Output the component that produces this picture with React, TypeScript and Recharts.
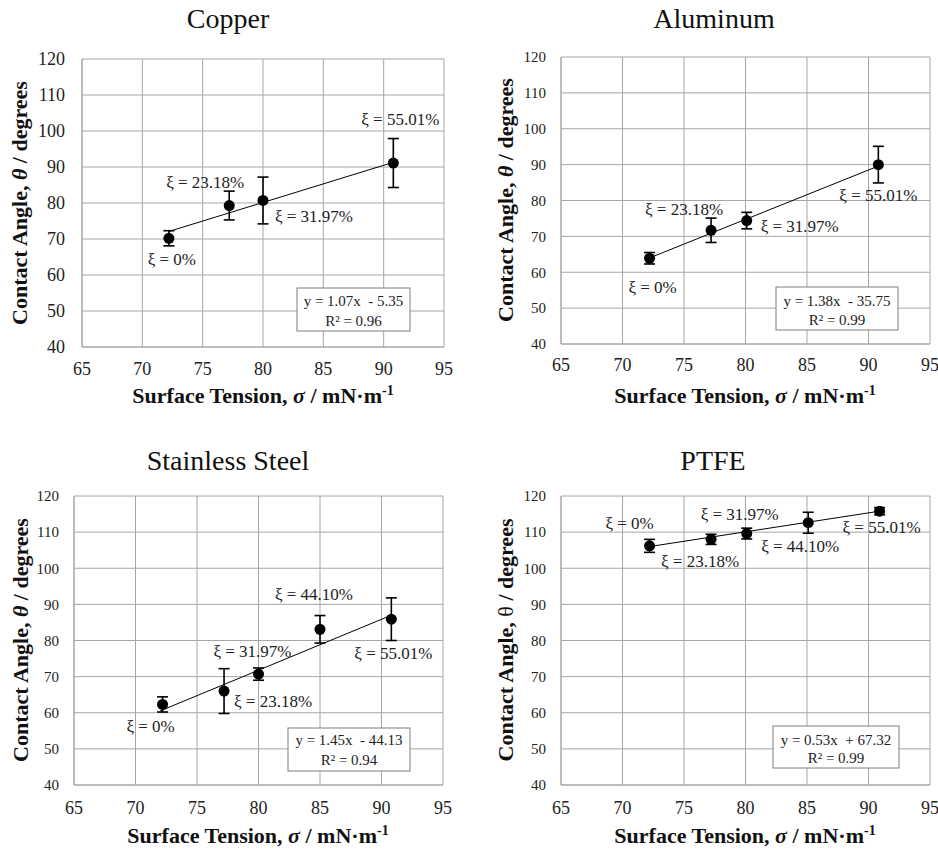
import React from 'react';
import { ScatterChart, Scatter, XAxis, YAxis, CartesianGrid, ErrorBar } from 'recharts';

// ---------- data ----------
const xTicks = [65, 70, 75, 80, 85, 90, 95];
const yTicks = [40, 50, 60, 70, 80, 90, 100, 110, 120];

const copperX = [72.2, 77.2, 80.0, 90.8];
const copperY = [70.2, 79.3, 80.7, 91.1];
const copperErr = [2.1, 4.0, 6.5, 6.8];
const copperTrendX = [72.2, 90.8];
const copperTrendY = [72.1, 91.3];
const copperLabels = ['ξ = 0%', 'ξ = 23.18%', 'ξ = 31.97%', 'ξ = 55.01%'];
const copperEq = ['y = 1.07x  - 5.35', 'R² = 0.96'];

const aluminumX = [72.2, 77.2, 80.1, 90.8];
const aluminumY = [63.9, 71.7, 74.4, 90.0];
const aluminumErr = [1.6, 3.4, 2.3, 5.1];
const aluminumTrendX = [72.2, 90.8];
const aluminumTrendY = [64.0, 89.6];
const aluminumLabels = ['ξ = 0%', 'ξ = 23.18%', 'ξ = 31.97%', 'ξ = 55.01%'];
const aluminumEq = ['y = 1.38x  - 35.75', 'R² = 0.99'];

const steelX = [72.2, 77.2, 80.0, 85.0, 90.8];
const steelY = [62.3, 66.0, 70.7, 83.1, 85.9];
const steelErr = [2.1, 6.2, 1.7, 3.8, 5.9];
const steelTrendX = [72.0, 90.8];
const steelTrendY = [60.5, 87.0];
const steelLabels = ['ξ = 0%', 'ξ = 23.18%', 'ξ = 31.97%', 'ξ = 44.10%', 'ξ = 55.01%'];
const steelEq = ['y = 1.45x  - 44.13', 'R² = 0.94'];

const ptfeX = [72.2, 77.2, 80.1, 85.1, 90.9];
const ptfeY = [106.2, 108.0, 109.6, 112.6, 115.8];
const ptfeErr = [1.8, 1.4, 1.5, 2.9, 1.0];
const ptfeTrendX = [72.2, 90.9];
const ptfeTrendY = [106.0, 115.8];
const ptfeLabels = ['ξ = 0%', 'ξ = 23.18%', 'ξ = 31.97%', 'ξ = 44.10%', 'ξ = 55.01%'];
const ptfeEq = ['y = 0.53x  + 67.32', 'R² = 0.99'];

// ---------- layout (pixel offsets of labels from their points) ----------
const copperLabelOffsets = [[3, 21], [-24, -24], [51, 16], [7, -44]];
const aluminumLabelOffsets = [[3, 29], [-27, -21], [53, 5], [0, 30]];
const steelLabelOffsets = [[-12, 22], [49, 10], [-6, -23], [-6, -35], [2, 34]];
const ptfeLabelOffsets = [[-20, -23], [-11, 22], [-7, -20], [-8, 23], [2, 16]];

const SERIF = 'Liberation Serif, serif';
const GRID = '#a6a6a6';

const PointShape = (props: any) => {
  const { cx, cy } = props;
  if (cx == null || cy == null) return <g />;
  return <circle cx={cx} cy={cy} r={5.5} fill="#000" />;
};

const LabelShape = (props: any) => {
  const { cx, cy, payload } = props;
  if (cx == null || cy == null) return <g />;
  return (
    <text
      x={cx + payload.dx}
      y={cy + payload.dy + 6}
      textAnchor="middle"
      fontSize={17}
      fontFamily={SERIF}
      fill="#222"
    >
      {payload.text}
    </text>
  );
};

const EmptyShape = () => <g />;

type PanelProps = {
  xs: number[];
  ys: number[];
  errs: number[];
  trendX: number[];
  trendY: number[];
  labels: string[];
  offsets: number[][];
  left: number;
  top: number;
  width: number;
  height: number;
  margin: { top: number; right: number; bottom: number; left: number };
  yTickSize: number;
  yTickGap: number;
  xTickGap: number;
};

const Panel = (p: PanelProps) => {
  const points = p.xs.map((x, i) => ({ x, y: p.ys[i], err: p.errs[i] }));
  const trend = p.trendX.map((x, i) => ({ x, y: p.trendY[i] }));
  const labelData = p.xs.map((x, i) => ({
    x,
    y: p.ys[i],
    text: p.labels[i],
    dx: p.offsets[i][0],
    dy: p.offsets[i][1],
  }));
  return (
    <div style={{ position: 'absolute', left: p.left, top: p.top }}>
      <ScatterChart width={p.width} height={p.height} margin={p.margin}>
        <CartesianGrid stroke={GRID} strokeWidth={1} />
        <XAxis
          type="number"
          dataKey="x"
          domain={[65, 95]}
          ticks={xTicks}
          interval={0}
          allowDataOverflow
          height={30}
          axisLine={{ stroke: GRID }}
          tickLine={false}
          tickSize={0}
          tickMargin={p.xTickGap}
          tick={{ fontSize: 18, fontFamily: SERIF, fill: '#222' }}
        />
        <YAxis
          type="number"
          dataKey="y"
          domain={[40, 120]}
          ticks={yTicks}
          interval={0}
          allowDataOverflow
          width={40}
          axisLine={{ stroke: GRID }}
          tickLine={false}
          tickSize={0}
          tickMargin={p.yTickGap}
          tick={{ fontSize: p.yTickSize, fontFamily: SERIF, fill: '#222' }}
        />
        <Scatter
          data={trend}
          line={{ stroke: '#000', strokeWidth: 1 }}
          shape={EmptyShape}
          isAnimationActive={false}
        />
        <Scatter data={points} shape={PointShape} isAnimationActive={false}>
          <ErrorBar
            dataKey="err"
            direction="y"
            width={5.5}
            stroke="#000"
            strokeWidth={1.6}
            isAnimationActive={false}
          />
        </Scatter>
        <Scatter data={labelData} shape={LabelShape} isAnimationActive={false} />
      </ScatterChart>
    </div>
  );
};

const Title = ({ x, y, text }: { x: number; y: number; text: string }) => (
  <text x={x} y={y} textAnchor="middle" fontSize={28} fontFamily={SERIF} fill="#111">
    {text}
  </text>
);

const XLabel = ({ x, y }: { x: number; y: number }) => (
  <text x={x} y={y} textAnchor="middle" fontSize={22} fontWeight="bold" fontFamily={SERIF} fill="#111">
    Surface Tension, <tspan fontStyle="italic">σ</tspan> / mN·m
    <tspan dy={-8} fontSize={14}>-1</tspan>
  </text>
);

const YLabel = ({ x, y, italic }: { x: number; y: number; italic: boolean }) => (
  <text
    x={x}
    y={y}
    transform={`rotate(-90 ${x} ${y})`}
    textAnchor="middle"
    fontSize={22}
    fontWeight="bold"
    fontFamily={SERIF}
    fill="#111"
  >
    Contact Angle,{' '}
    {italic ? <tspan fontStyle="italic">θ</tspan> : <tspan fontWeight="normal">θ</tspan>} / degrees
  </text>
);

const EqBox = ({ x, y, w, h, lines, b1, b2 }: { x: number; y: number; w: number; h: number; lines: string[]; b1: number; b2: number }) => (
  <g>
    <rect x={x} y={y} width={w} height={h} fill="#fff" stroke="#7f7f7f" strokeWidth={1} />
    <text x={x + w / 2} y={b1} textAnchor="middle" fontSize={15} fontFamily={SERIF} fill="#222" style={{ whiteSpace: 'pre' }}>
      {lines[0]}
    </text>
    <text x={x + w / 2} y={b2} textAnchor="middle" fontSize={15} fontFamily={SERIF} fill="#222" style={{ whiteSpace: 'pre' }}>
      {lines[1]}
    </text>
  </g>
);

export default function App() {
  return (
    <div style={{ position: 'absolute', left: 0, top: 0, width: 938, height: 849, background: '#fff', overflow: 'hidden' }}>
      <Panel
        xs={copperX} ys={copperY} errs={copperErr} trendX={copperTrendX} trendY={copperTrendY}
        labels={copperLabels} offsets={copperLabelOffsets}
        left={0} top={0} width={469} height={420}
        margin={{ top: 59, right: 25, bottom: 43, left: 42 }}
        yTickSize={18} yTickGap={17} xTickGap={15}
      />
      <Panel
        xs={aluminumX} ys={aluminumY} errs={aluminumErr} trendX={aluminumTrendX} trendY={aluminumTrendY}
        labels={aluminumLabels} offsets={aluminumLabelOffsets}
        left={469} top={0} width={469} height={420}
        margin={{ top: 57, right: 8, bottom: 46, left: 52 }}
        yTickSize={15} yTickGap={15} xTickGap={14}
      />
      <Panel
        xs={steelX} ys={steelY} errs={steelErr} trendX={steelTrendX} trendY={steelTrendY}
        labels={steelLabels} offsets={steelLabelOffsets}
        left={0} top={420} width={469} height={429}
        margin={{ top: 76, right: 26, bottom: 34, left: 34 }}
        yTickSize={15} yTickGap={15} xTickGap={16}
      />
      <Panel
        xs={ptfeX} ys={ptfeY} errs={ptfeErr} trendX={ptfeTrendX} trendY={ptfeTrendY}
        labels={ptfeLabels} offsets={ptfeLabelOffsets}
        left={469} top={420} width={469} height={429}
        margin={{ top: 76, right: 8, bottom: 34, left: 52 }}
        yTickSize={15} yTickGap={15} xTickGap={16}
      />
      <svg width={938} height={849} style={{ position: 'absolute', left: 0, top: 0, pointerEvents: 'none' }}>
        <Title x={228} y={28} text="Copper" />
        <Title x={714} y={28} text="Aluminum" />
        <Title x={228} y={470} text="Stainless Steel" />
        <Title x={713} y={470} text="PTFE" />
        <XLabel x={263} y={403} />
        <XLabel x={745} y={403} />
        <XLabel x={258} y={843} />
        <XLabel x={745} y={843} />
        <YLabel x={27} y={203} italic />
        <YLabel x={513} y={200} italic />
        <YLabel x={28} y={640} italic />
        <YLabel x={513} y={640} italic={false} />
        <EqBox x={297} y={288} w={113} h={43} lines={copperEq} b1={306} b2={326} />
        <EqBox x={776} y={287} w={122} h={43} lines={aluminumEq} b1={306} b2={325} />
        <EqBox x={288} y={728} w={122} h={43} lines={steelEq} b1={745} b2={765} />
        <EqBox x={773} y={726} w={126} h={42} lines={ptfeEq} b1={745} b2={763} />
      </svg>
    </div>
  );
}
